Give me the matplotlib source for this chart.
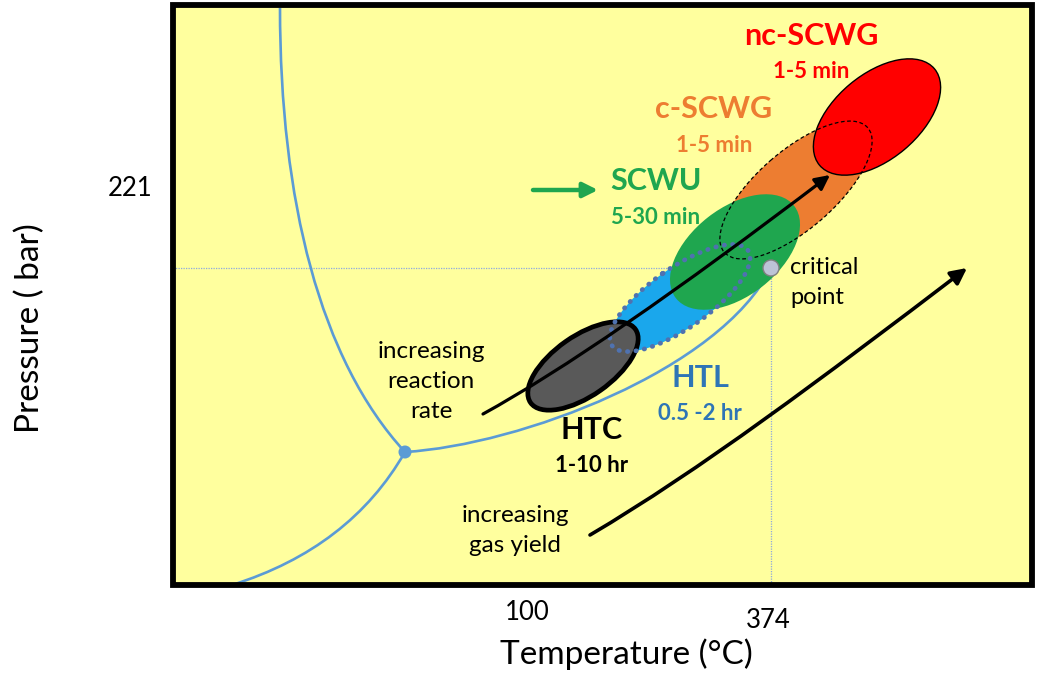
import matplotlib
matplotlib.use("Agg")
import matplotlib.pyplot as plt
from matplotlib.patches import Ellipse, Rectangle, Circle, PathPatch, FancyArrowPatch
from matplotlib.path import Path

plt.rcParams["font.family"] = ["Lato", "DejaVu Sans"]

# schematic coordinates (pixel space of the original figure, y grows downwards)
box = (173, 5, 1032, 585)           # left, top, right, bottom of the plot frame
triple_pt = (405, 452)
critical_pt = (771, 268)

# phase boundaries as bezier control points (start, controls..., end)
melt_pts = [(280, 8), (280, 200), (320, 360), (405, 452)]
subl_pts = [(405, 452), (350, 548), (232, 585)]
vap_pts = [(405, 452), (520, 445), (720, 370), (771, 268)]

# process regions
regions = ["HTC", "HTL", "SCWU", "c-SCWG", "nc-SCWG"]
reg_cx = [583, 680, 735, 796, 877]
reg_cy = [366, 298, 252, 190, 117]
reg_w = [128, 166, 150, 190, 150]
reg_h = [60, 60, 88, 78, 85]
reg_ang = [35, 35, 38, 41, 40]
reg_col = ["#595959", "#1AA7EC", "#1FA64F", "#ED7D31", "#FF0000"]
reg_times = ["1-10 hr", "0.5 -2 hr", "5-30 min", "1-5 min", "1-5 min"]
txt_col = ["#000000", "#2E75B6", "#1FA64F", "#ED7D31", "#FF0000"]
txt_x = [592, 700, 656, 714, 811]
txt_y = [430, 378, 181, 109, 36]

# trend arrows (bezier control points)
rate_pts = [(483, 414), (600, 350), (830, 175)]
gas_pts = [(590, 535), (700, 470), (820, 380), (967, 268)]


def bezier(pts):
    code = Path.CURVE3 if len(pts) == 3 else Path.CURVE4
    return Path(pts, [Path.MOVETO] + [code] * (len(pts) - 1))


fig = plt.figure(figsize=(10.37, 6.76), dpi=100)
ax = fig.add_axes([0, 0, 1, 1])
ax.set_xlim(0, 1037)
ax.set_ylim(676, 0)
ax.axis("off")

L, T, R, B = box
ax.add_patch(Rectangle((L, T), R - L, B - T, facecolor="#FFFF9E", edgecolor="none", zorder=0))

# reference lines through the critical point
ax.plot([L, critical_pt[0]], [critical_pt[1]] * 2, ls=(0, (1, 1)), color="#8FAADC", lw=0.9, zorder=1)
ax.plot([critical_pt[0]] * 2, [critical_pt[1], B], ls=(0, (1, 1)), color="#8FAADC", lw=0.9, zorder=1)

# phase curves
for pts in [melt_pts, subl_pts, vap_pts]:
    ax.add_patch(PathPatch(bezier(pts), facecolor="none", edgecolor="#5B9BD5", lw=1.9, zorder=2))


def ell(i, **kw):
    return Ellipse((reg_cx[i], reg_cy[i]), reg_w[i], reg_h[i], angle=-reg_ang[i], **kw)


# fills (stacking order matters)
ax.add_patch(ell(3, facecolor=reg_col[3], edgecolor="none", zorder=3))
ax.add_patch(ell(1, facecolor=reg_col[1], edgecolor="none", zorder=3))
ax.add_patch(ell(2, facecolor=reg_col[2], edgecolor="none", zorder=4))
ax.add_patch(ell(4, facecolor=reg_col[4], edgecolor="black", lw=1.0, zorder=4))
ax.add_patch(ell(0, facecolor=reg_col[0], edgecolor="black", lw=3.4, zorder=5))
# outlines on top
ax.add_patch(ell(3, facecolor="none", edgecolor="black", lw=0.9, ls=(0, (3, 2)), zorder=6))
ax.add_patch(ell(1, facecolor="none", edgecolor="#4F72B0", lw=3.4, ls=(0, (0.1, 1.7)),
                 capstyle="round", zorder=6))

# critical / triple points
ax.add_patch(Circle(triple_pt, 6.5, facecolor="#5B9BD5", edgecolor="none", zorder=7))
ax.add_patch(Circle(critical_pt, 8, facecolor="#BCC3D6", edgecolor="#7F7F7F", lw=1.0, zorder=7))

# trend arrows
ax.add_patch(FancyArrowPatch(path=bezier(rate_pts), arrowstyle="-|>", mutation_scale=22,
                             color="black", lw=2.3, zorder=8))
ax.add_patch(FancyArrowPatch(path=bezier(gas_pts), arrowstyle="-|>", mutation_scale=24,
                             color="black", lw=2.6, zorder=8))
ax.add_patch(FancyArrowPatch((533, 190), (598, 190), arrowstyle="-|>", mutation_scale=22,
                             color="#1FA64F", lw=3.2, shrinkA=0, shrinkB=0, zorder=8))

# frame
ax.add_patch(Rectangle((L, T), R - L, B - T, facecolor="none", edgecolor="black", lw=4.2, zorder=9))

# region labels
for name, t, c, x, y in zip(regions, reg_times, txt_col, txt_x, txt_y):
    ax.text(x, y, name, color=c, fontsize=22, fontweight="bold", ha="center", va="center", zorder=10)
    ax.text(x, y + 36, t, color=c, fontsize=16, fontweight="bold", ha="center", va="center", zorder=10)

ax.text(790, 268, "critical", fontsize=17, ha="left", va="center", zorder=10)
ax.text(790, 298, "point", fontsize=17, ha="left", va="center", zorder=10)
for k, s in enumerate(["increasing", "reaction", "rate"]):
    ax.text(431, 352 + 30 * k, s, fontsize=17.5, ha="center", va="center", zorder=10)
for k, s in enumerate(["increasing", "gas yield"]):
    ax.text(515, 515 + 30 * k, s, fontsize=17.5, ha="center", va="center", zorder=10)

# axis annotations
ax.text(130, 188, "221", fontsize=18.5, ha="center", va="center")
ax.text(527, 613, "100", fontsize=18.5, ha="center", va="center")
ax.text(768, 620, "374", fontsize=18.5, ha="center", va="center")
ax.text(626, 654, "Temperature (°C)", fontsize=24, ha="center", va="center")
ax.text(30, 328, "Pressure ( bar)", fontsize=24, ha="center", va="center", rotation=90)

fig.savefig("out.png", dpi=100, facecolor="white")
